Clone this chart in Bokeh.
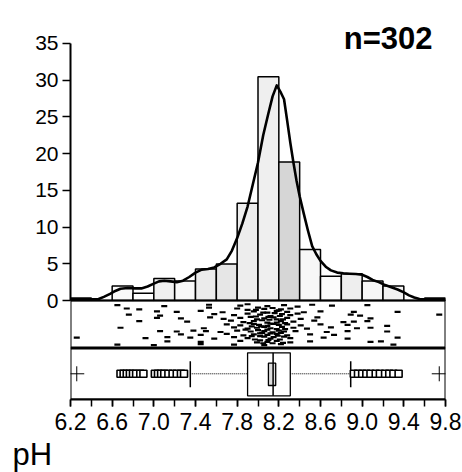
from bokeh.plotting import figure
from bokeh.models import Range1d, FixedTicker, Label, PrintfTickFormatter, Title
from bokeh.embed import file_html
from bokeh.resources import INLINE

# ---------------- data ----------------
bin_left = [6.2, 6.4, 6.6, 6.8, 7.0, 7.2, 7.4, 7.6, 7.8, 8.0, 8.2, 8.4, 8.6, 8.8, 9.0, 9.2, 9.4, 9.6]
bin_pct = [0.33, 0.0, 1.99, 0.99, 2.98, 2.65, 4.30, 4.97, 13.25, 30.46, 18.87, 6.95, 3.31, 3.64, 2.65, 1.99, 0.0, 0.33]
bin_width = 0.2

curve_x = [6.20, 6.30, 6.40, 6.47, 6.52, 6.58, 6.63, 6.68, 6.75, 6.82, 6.88, 6.94, 7.00, 7.05, 7.10,
           7.16, 7.22, 7.28, 7.34, 7.40, 7.46, 7.52, 7.58, 7.64, 7.70, 7.75, 7.80, 7.85, 7.90, 7.95,
           8.00, 8.05, 8.10, 8.14, 8.18, 8.22, 8.25, 8.28, 8.31, 8.34, 8.37, 8.40, 8.44, 8.48, 8.52,
           8.56, 8.60, 8.65, 8.70, 8.76, 8.82, 8.88, 8.94, 9.00, 9.05, 9.10, 9.16, 9.22, 9.28, 9.34,
           9.40, 9.45, 9.50, 9.55, 9.60, 9.70, 9.80]
curve_y = [0.15, 0.15, 0.15, 0.2, 0.5, 0.9, 1.3, 1.6, 1.7, 1.65, 1.65, 1.9, 2.3, 2.6, 2.7,
           2.6, 2.5, 2.7, 3.2, 3.8, 4.2, 4.3, 4.5, 5.0, 5.6, 6.8, 8.5, 10.5, 12.8, 15.8,
           18.8, 22.5, 25.5, 27.8, 29.3, 28.3, 27.4, 24.5, 21.5, 18.8, 16.3, 14.2, 11.8, 9.5, 7.4,
           6.3, 5.4, 4.6, 4.1, 3.8, 3.7, 3.65, 3.6, 3.5, 3.2, 2.8, 2.5, 2.1, 1.8, 1.5,
           1.1, 0.7, 0.4, 0.2, 0.15, 0.15, 0.15]

# box plot statistics
q1, median, q3 = 7.90, 8.145, 8.31
median_ci = (8.10, 8.17)
whisker_lo, whisker_hi = 7.35, 8.89
outliers = [6.68, 6.71, 6.74, 6.77, 6.80, 6.83, 6.87, 6.90, 7.01, 7.04, 7.07, 7.10, 7.14, 7.18,
            7.22, 7.26, 7.29, 8.92, 8.96, 9.00, 9.04, 9.08, 9.13, 9.17, 9.22, 9.26, 9.30, 9.35]
far_outliers = [6.26, 9.74]

# jittered strip: (pH, jitter 0..1)
strip_points = [
    (6.65, 0.90), (7.10, 0.88), (7.53, 0.91), (7.83, 0.89), (7.90, 0.92), (8.09, 0.88), (8.25, 0.90), (8.38, 0.87), (8.52, 0.91), (8.71, 0.89), (9.05, 0.90),
    (6.74, 0.83), (6.86, 0.81), (7.53, 0.85), (7.80, 0.83), (7.90, 0.80), (8.00, 0.85), (8.06, 0.82), (8.14, 0.84), (8.22, 0.81), (8.31, 0.83),
    (7.03, 0.77), (7.22, 0.76), (7.45, 0.78), (7.66, 0.75), (7.96, 0.77), (8.09, 0.74), (8.18, 0.78), (8.28, 0.76), (8.44, 0.75), (8.60, 0.77), (8.92, 0.76), (9.34, 0.76),
    (6.76, 0.70), (7.06, 0.68), (7.58, 0.71), (7.77, 0.69), (7.90, 0.72), (8.02, 0.70), (8.12, 0.67), (8.23, 0.71), (8.31, 0.69), (8.38, 0.72), (8.89, 0.70), (8.98, 0.68), (9.74, 0.70),
    (7.03, 0.63), (7.26, 0.62), (7.54, 0.64), (7.67, 0.61), (7.83, 0.63), (7.93, 0.65), (8.06, 0.62), (8.15, 0.64), (8.18, 0.60), (8.28, 0.63), (8.41, 0.61), (8.57, 0.64), (9.08, 0.62),
    (6.86, 0.56), (7.32, 0.55), (7.74, 0.57), (7.86, 0.54), (7.96, 0.56), (8.04, 0.58), (8.09, 0.53), (8.22, 0.56), (8.34, 0.55), (8.54, 0.57), (8.82, 0.54), (8.92, 0.55), (9.05, 0.56),
    (7.70, 0.49), (7.83, 0.47), (7.96, 0.50), (8.01, 0.48), (8.09, 0.46), (8.15, 0.50), (8.20, 0.48), (8.28, 0.49), (8.41, 0.47), (8.60, 0.49), (8.86, 0.48), (9.24, 0.46),
    (6.68, 0.42), (7.48, 0.41), (7.77, 0.43), (7.90, 0.40), (7.99, 0.42), (8.06, 0.44), (8.12, 0.41), (8.18, 0.39), (8.34, 0.42), (8.47, 0.40), (8.70, 0.43), (8.95, 0.41), (9.08, 0.42),
    (7.06, 0.35), (7.22, 0.34), (7.38, 0.36), (7.50, 0.35), (7.64, 0.33), (7.80, 0.36), (7.93, 0.34), (8.06, 0.35), (8.14, 0.32), (8.20, 0.36), (8.25, 0.34), (8.36, 0.35), (8.66, 0.33), (8.86, 0.35), (9.24, 0.34),
    (7.26, 0.28), (7.45, 0.27), (7.70, 0.29), (7.86, 0.26), (7.96, 0.28), (8.02, 0.30), (8.09, 0.27), (8.18, 0.29), (8.28, 0.26), (8.50, 0.28), (8.73, 0.27),
    (6.26, 0.21), (6.92, 0.20), (7.13, 0.22), (7.35, 0.21), (7.58, 0.19), (7.77, 0.22), (7.90, 0.20), (8.06, 0.23), (8.12, 0.19), (8.15, 0.22), (8.31, 0.20), (8.63, 0.21), (8.86, 0.19), (9.34, 0.21),
    (7.13, 0.13), (7.45, 0.12), (7.83, 0.14), (7.99, 0.11), (8.02, 0.15), (8.09, 0.12), (8.18, 0.14), (8.31, 0.11), (8.50, 0.13), (9.08, 0.12), (9.18, 0.13),
    (6.65, 0.06), (7.00, 0.05), (7.45, 0.07), (7.77, 0.06), (8.06, 0.05), (8.22, 0.07), (9.30, 0.06),
    (7.98, 0.80), (8.20, 0.79), (8.05, 0.74), (8.16, 0.73), (7.98, 0.66), (8.10, 0.65), (8.21, 0.67), (7.99, 0.60), (8.11, 0.59), (8.24, 0.60),
    (7.92, 0.52), (8.12, 0.51), (8.18, 0.53), (8.26, 0.52), (7.94, 0.45), (8.03, 0.45), (8.23, 0.44), (7.88, 0.38), (8.00, 0.37), (8.09, 0.38),
    (8.26, 0.39), (8.04, 0.31), (8.12, 0.30), (8.22, 0.31), (7.94, 0.24), (8.02, 0.24), (8.19, 0.25), (8.25, 0.23), (7.97, 0.17), (8.10, 0.16),
    (8.21, 0.17), (8.05, 0.09), (8.14, 0.09), (8.24, 0.10),
]

y_ticks = [0, 5, 10, 15, 20, 25, 30, 35]
x_ticks = [6.2, 6.6, 7.0, 7.4, 7.8, 8.2, 8.6, 9.0, 9.4, 9.8]
x_minor = [6.2, 6.4, 6.6, 6.8, 7.0, 7.2, 7.4, 7.6, 7.8, 8.0, 8.2, 8.4, 8.6, 8.8, 9.0, 9.2, 9.4, 9.6, 9.8]
n_label = "n=302"
x_label = "pH"

# styles
bar_fill = ["#ffffff", "#ffffff", "#fafafa", "#ffffff", "#f0f0f0", "#f8f8f8", "#ebebeb", "#e6e6e6",
            "#ededed", "#efefef", "#d6d6d6", "#f7f7f7", "#fbfbfb", "#eeeeee", "#f6f6f6", "#f2f2f2",
            "#ffffff", "#ffffff"]
FONT = "Liberation Sans"

# ---------------- layout (pixels) ----------------
frame_left, frame_right = 70, 445
frame_top, frame_bottom = 10, 399
border_right, border_bottom = 17, 73
zero_y = 300           # pixel row of 0 %
px_per_pct = 7.343
strip_top, strip_bottom = 300, 347
box_top, box_bottom = 348, 399

fw = frame_right - frame_left
fh = frame_bottom - frame_top
y_start = -(frame_bottom - zero_y) / px_per_pct
y_end = (zero_y - frame_top) / px_per_pct

p = figure(frame_width=fw, frame_height=fh, output_backend="svg", toolbar_location=None,
           x_range=Range1d(6.2, 9.8), y_range=Range1d(y_start, y_end),
           min_border_left=frame_left, min_border_right=border_right,
           min_border_top=frame_top, min_border_bottom=border_bottom)
p.outline_line_color = None
p.xgrid.visible = False
p.ygrid.visible = False
p.background_fill_color = "white"
p.border_fill_color = "white"

s_scale = strip_bottom - strip_top
p.extra_y_ranges = {
    "strip": Range1d(-(frame_bottom - strip_bottom) / s_scale, 1 + (strip_top - frame_top) / s_scale),
    "box": Range1d(0, fh / (box_bottom - box_top)),
}

# histogram
bin_right = [b + bin_width for b in bin_left]
p.quad(left=bin_left, right=bin_right, bottom=0, top=bin_pct, fill_color=bar_fill,
       line_color="black", line_width=1.5)
# density curve
p.line(curve_x, curve_y, line_color="black", line_width=2.6, line_join="round")

# strip panel
sx = [a for a, b in strip_points]
sy = [b for a, b in strip_points]
p.quad(left=6.2, right=9.8, bottom=0, top=1, y_range_name="strip", fill_color=None,
       line_color="black", line_width=2)
p.scatter(sx, sy, marker="dash", size=6, line_width=2.2, line_color="black", y_range_name="strip")

# box panel
p.quad(left=6.2, right=9.8, bottom=0, top=1, y_range_name="box", fill_color=None,
       line_color="black", line_width=2)
mid = 0.504
p.segment(x0=[whisker_lo, q3], y0=[mid, mid], x1=[q1, whisker_hi], y1=[mid, mid],
          y_range_name="box", line_color="black", line_width=1, line_dash="1 1")
p.segment(x0=[whisker_lo, whisker_hi], y0=[0.24, 0.24], x1=[whisker_lo, whisker_hi], y1=[0.75, 0.75],
          y_range_name="box", line_color="black", line_width=1.5)
p.quad(left=q1, right=q3, bottom=0.073, top=0.916, y_range_name="box", fill_color=None,
       line_color="black", line_width=1.3)
p.quad(left=median_ci[0], right=median_ci[1], bottom=0.275, top=0.712, y_range_name="box",
       fill_color="#dddddd", line_color="black", line_width=1.3)
p.segment(x0=median, y0=0.073, x1=median, y1=0.916, y_range_name="box", line_color="black", line_width=1.5)
p.scatter(outliers, [mid] * len(outliers), marker="square", size=7, fill_color="white",
          line_color="black", line_width=1.6, y_range_name="box")
p.scatter(far_outliers, [mid] * len(far_outliers), marker="cross", size=15,
          line_color="black", line_width=1, y_range_name="box")

# axes
ya = p.yaxis[0]
ya.bounds = (0, 35)
ya.ticker = FixedTicker(ticks=y_ticks)
ya.major_tick_out = 8
ya.major_tick_in = 0
ya.minor_tick_out = 0
ya.minor_tick_in = 0
ya.axis_line_width = 2
ya.major_tick_line_width = 1.5
ya.major_label_text_font = FONT
ya.major_label_text_font_size = "21px"
ya.major_label_text_color = "black"
ya.major_label_standoff = 4

xa = p.xaxis[0]
xa.ticker = FixedTicker(ticks=x_ticks, minor_ticks=x_minor)
xa.formatter = PrintfTickFormatter(format="%.1f")
xa.major_tick_out = 7
xa.major_tick_in = 0
xa.minor_tick_out = 7
xa.minor_tick_in = 0
xa.axis_line_width = 2
xa.major_tick_line_width = 1.5
xa.minor_tick_line_width = 1.5
xa.major_label_text_font = FONT
xa.major_label_text_font_size = "23px"
xa.major_label_text_color = "black"
xa.major_label_standoff = 6

# texts
nx = 6.2 + (432 - frame_left) / (fw / 3.6)
ny = (zero_y - 38) / px_per_pct
p.add_layout(Label(x=nx, y=ny, text=n_label, text_align="right", text_baseline="alphabetic",
                   text_font=FONT, text_font_style="bold", text_font_size="31px", text_color="black"))
p.add_layout(Title(text=x_label, align="left", offset=12 - frame_left, standoff=5,
                   text_font=FONT, text_font_style="normal", text_font_size="31px",
                   text_color="black"), "below")

open("out.html", "w").write(file_html(p, INLINE))
